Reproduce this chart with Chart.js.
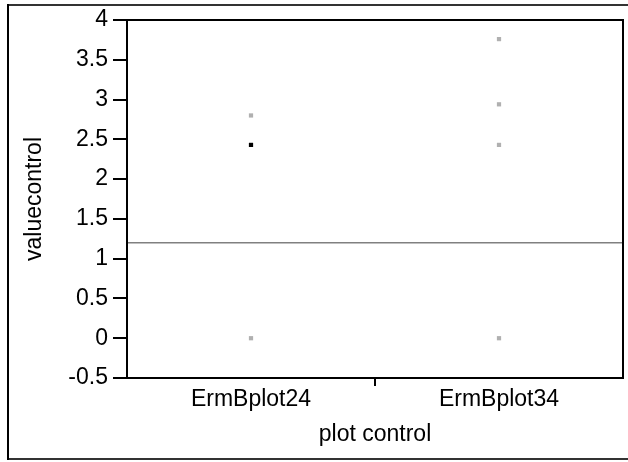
<!DOCTYPE html>
<html>
<head>
<meta charset="utf-8">
<title>valuecontrol by plot control</title>
<script src="https://cdn.jsdelivr.net/npm/chart.js@4"></script>
<style>
    html, body { margin: 0; padding: 0; background: #fff; }
    #wrap { width: 628px; height: 462px; position: relative; }
</style>
</head>
<body>
<div id="wrap"><canvas id="valueChart"></canvas></div>
<script>
const categories = ["ErmBplot24", "ErmBplot34"];
const plot24Values = [2.8, 0];
const plot24Highlight = [2.43];
const plot34Values = [3.76, 2.94, 2.43, 0];
const yTicks = [-0.5, 0, 0.5, 1, 1.5, 2, 2.5, 3, 3.5, 4];
const referenceValue = 1.2;

const FONT = "'Liberation Sans', Arial, sans-serif";

function toPoints(label, values) {
    return values.map(v => ({ x: label, y: v }));
}

// outer frame + box round the plot area + horizontal reference line
const framePlugin = {
    id: 'frame',
    beforeDraw(chart) {
        const ctx = chart.ctx;
        ctx.save();
        ctx.fillStyle = '#fff';
        ctx.fillRect(0, 0, chart.width, chart.height);
        ctx.lineWidth = 2;
        ctx.strokeStyle = '#333';
        ctx.beginPath();
        ctx.moveTo(7, 5); ctx.lineTo(chart.width, 5);
        ctx.moveTo(7, 459); ctx.lineTo(chart.width, 459);
        ctx.stroke();
        ctx.strokeStyle = '#000';
        ctx.beginPath();
        ctx.moveTo(8, 4); ctx.lineTo(8, 460);
        ctx.stroke();
        ctx.restore();
    },
    beforeDatasetsDraw(chart) {
        const { ctx, chartArea, scales } = chart;
        const y = scales.y.getPixelForValue(referenceValue);
        ctx.save();
        ctx.strokeStyle = '#808080';
        ctx.lineWidth = 1.5;
        ctx.beginPath();
        ctx.moveTo(chartArea.left, y);
        ctx.lineTo(chartArea.right, y);
        ctx.stroke();
        ctx.restore();
    },
    afterDraw(chart) {
        const { ctx, chartArea } = chart;
        ctx.save();
        ctx.strokeStyle = '#000';
        ctx.lineWidth = 2;
        ctx.strokeRect(chartArea.left, chartArea.top, chartArea.right - chartArea.left, chartArea.bottom - chartArea.top);
        ctx.restore();
    }
};

const grey = '#b0b0b0';

new Chart(document.getElementById('valueChart'), {
    type: 'line',
    data: {
        labels: categories,
        datasets: [
            {
                data: toPoints(categories[0], plot24Values),
                showLine: false,
                pointStyle: 'rect',
                pointRadius: 3,
                pointBorderWidth: 0,
                pointBackgroundColor: grey,
                pointBorderColor: grey,
            },
            {
                data: toPoints(categories[1], plot34Values),
                showLine: false,
                pointStyle: 'rect',
                pointRadius: 3,
                pointBorderWidth: 0,
                pointBackgroundColor: grey,
                pointBorderColor: grey,
            },
            {
                data: toPoints(categories[0], plot24Highlight),
                showLine: false,
                pointStyle: 'rect',
                pointRadius: 3,
                pointBorderWidth: 0,
                pointBackgroundColor: '#000',
                pointBorderColor: '#000',
            },
        ],
    },
    options: {
        responsive: true,
        maintainAspectRatio: false,
        animation: false,
        layout: { padding: { top: 20, right: 5, left: 0, bottom: 0 } },
        plugins: {
            legend: { display: false },
            tooltip: { enabled: false },
        },
        scales: {
            x: {
                type: 'category',
                offset: true,
                afterFit: s => { s.height = 84; },
                grid: {
                    offset: true,
                    drawOnChartArea: false,
                    tickLength: 8,
                    lineWidth: 2,
                    color: c => c.index === 1 ? '#000' : 'rgba(0,0,0,0)',
                    tickColor: c => c.index === 1 ? '#000' : 'rgba(0,0,0,0)',
                },
                border: { display: true, color: '#000', width: 2 },
                ticks: {
                    color: '#000',
                    padding: 0,
                    font: { family: FONT, size: 23 },
                    maxRotation: 0,
                },
                title: {
                    display: true,
                    text: 'plot control',
                    color: '#000',
                    font: { family: FONT, size: 23 },
                    padding: { top: 0, bottom: 14 },
                },
            },
            y: {
                min: -0.5,
                max: 4,
                afterFit: s => { s.width = 127; },
                afterBuildTicks: s => { s.ticks = yTicks.map(v => ({ value: v })); },
                grid: {
                    drawOnChartArea: false,
                    tickLength: 14,
                    lineWidth: 2,
                    color: '#000',
                    tickColor: '#000',
                },
                border: { display: true, color: '#000', width: 2 },
                ticks: {
                    color: '#000',
                    padding: 5,
                    font: { family: FONT, size: 23 },
                    callback: v => String(v),
                },
                title: {
                    display: true,
                    text: 'valuecontrol',
                    color: '#000',
                    font: { family: FONT, size: 23 },
                    padding: { top: 21, bottom: 0 },
                },
            },
        },
    },
    plugins: [framePlugin],
});
</script>
</body>
</html>
